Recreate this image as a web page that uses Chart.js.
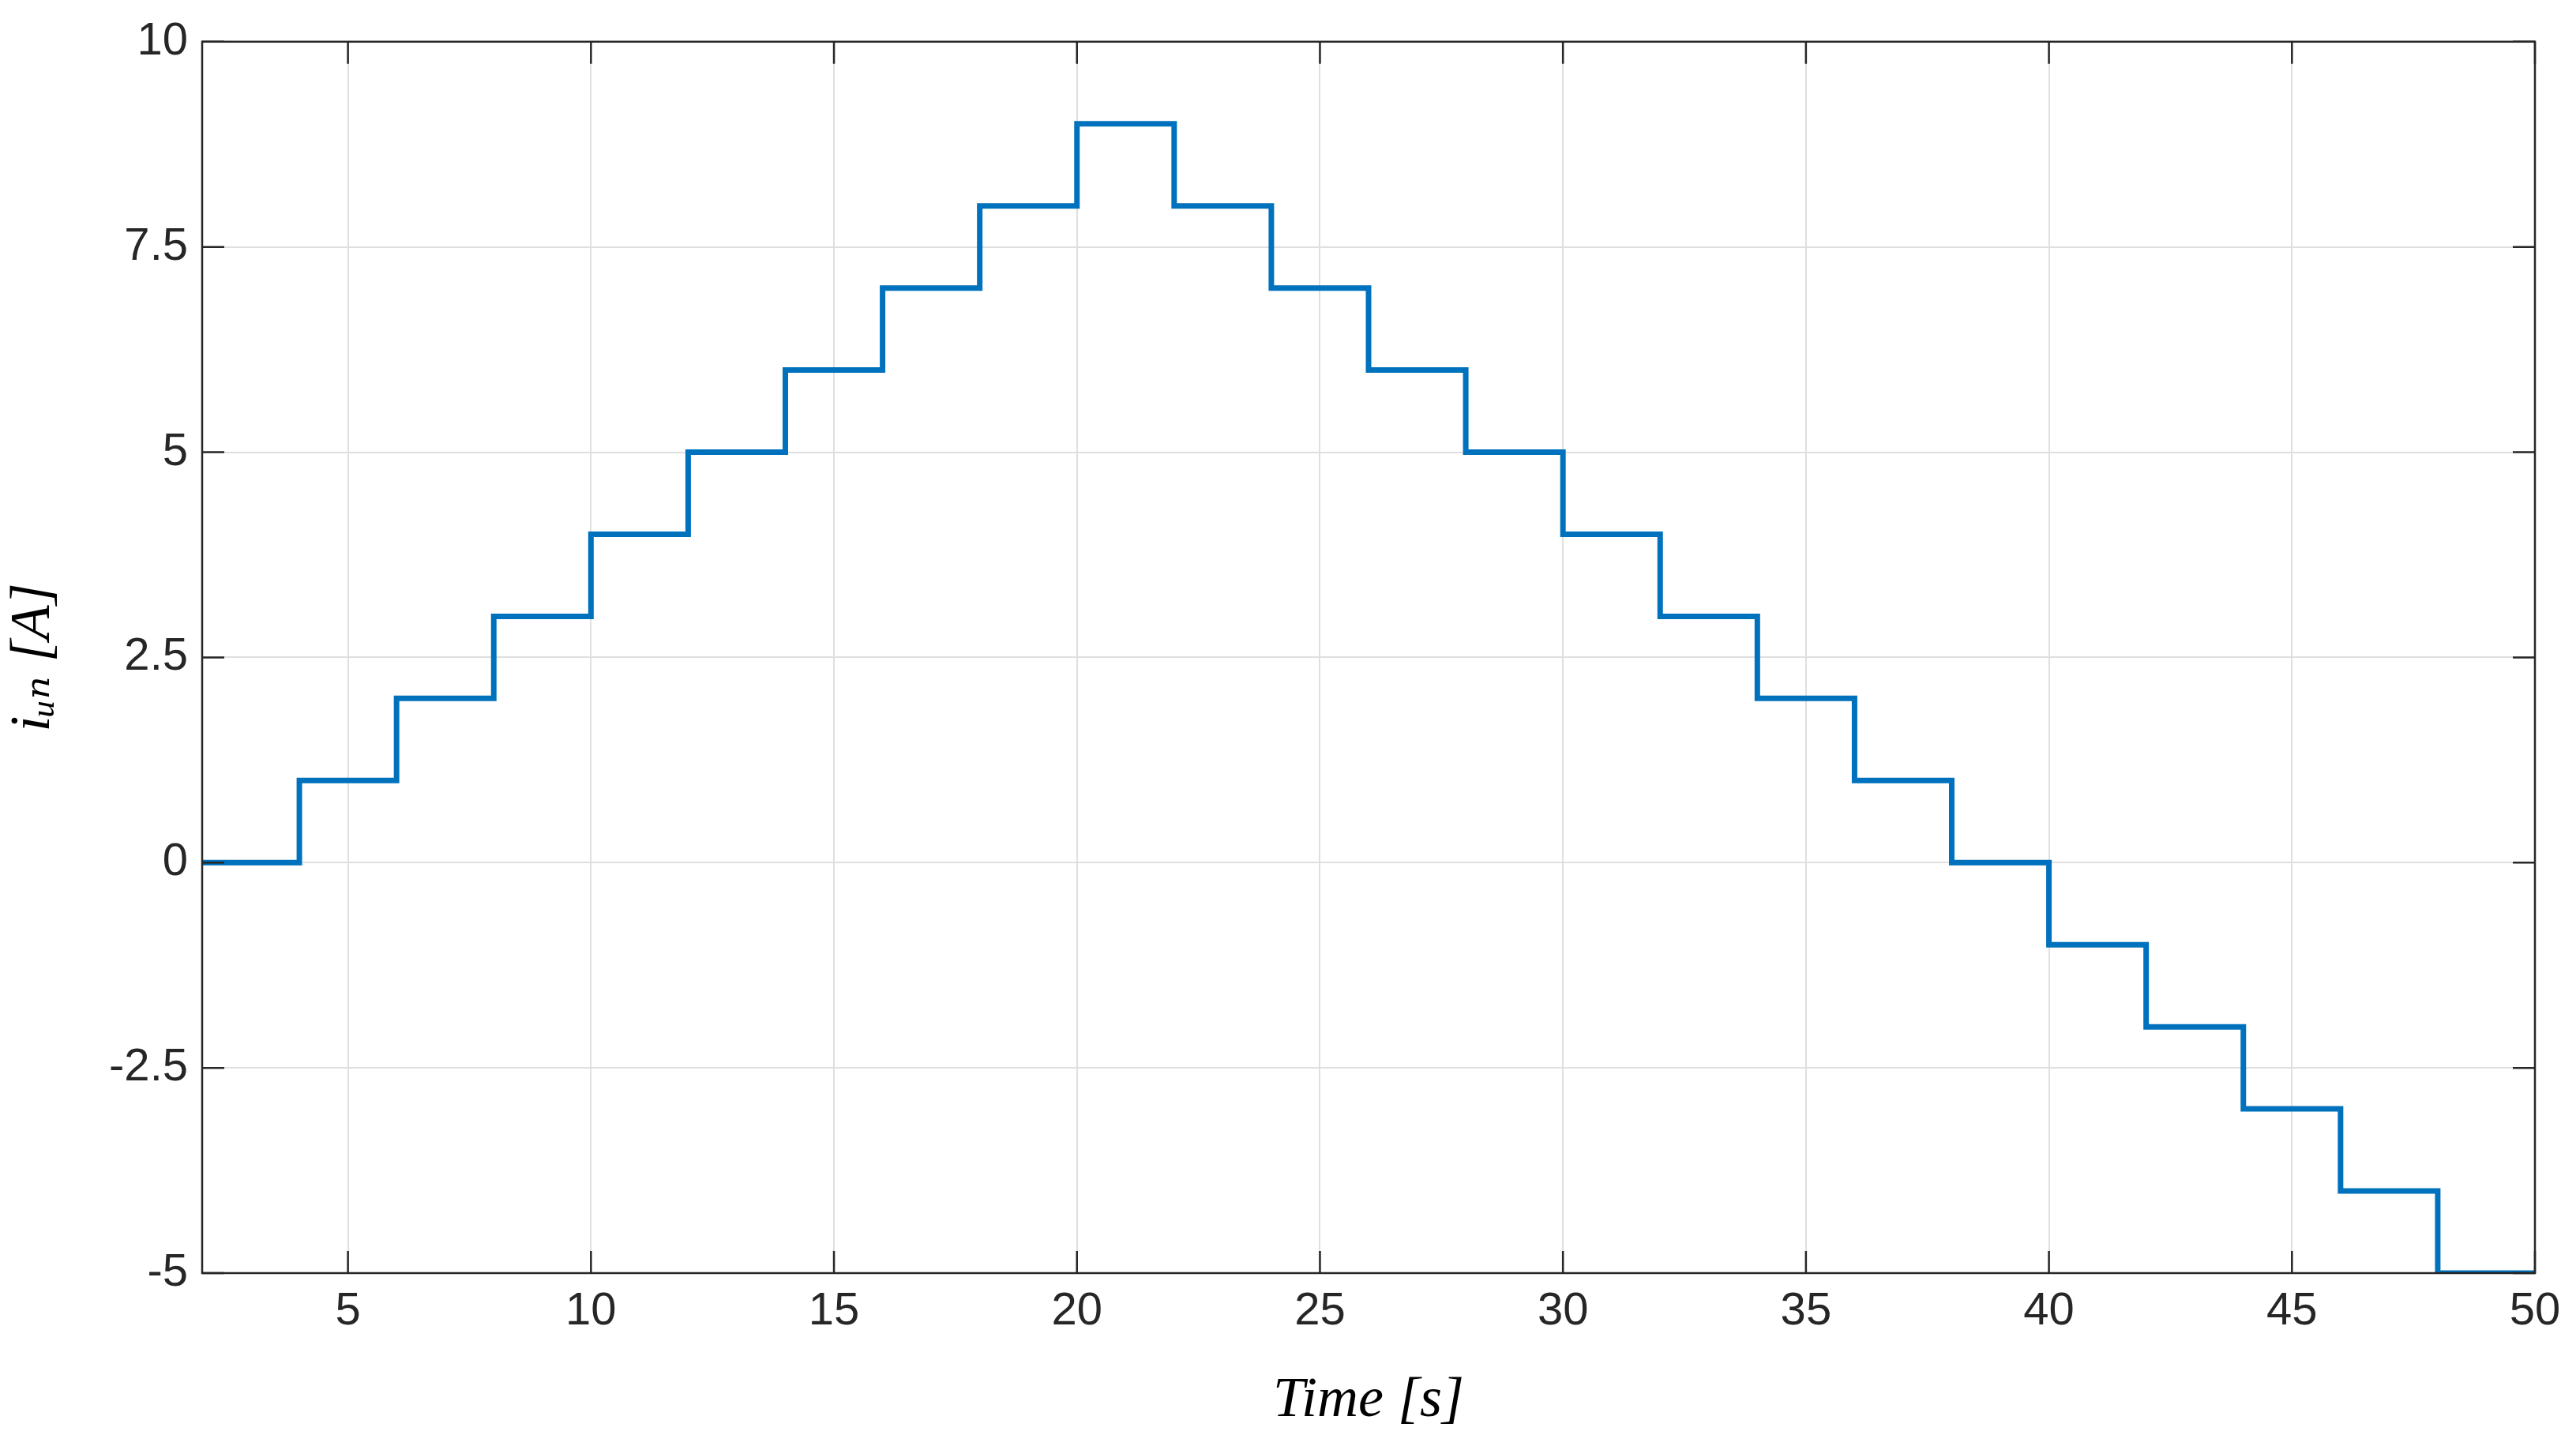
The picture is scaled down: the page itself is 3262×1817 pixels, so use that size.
<!DOCTYPE html>
<html>
<head>
<meta charset="utf-8">
<script src="https://cdn.jsdelivr.net/npm/chart.js@4"></script>
<style>
  html, body { margin: 0; padding: 0; background: #fff; }
  canvas { display: block; }
</style>
</head>
<body>
<canvas id="c" width="3262" height="1817" style="width:3262px;height:1817px;"></canvas>
<script>
// Step current over time (value holds from each time until the next)
var timeS = [2, 4, 6, 8, 10, 12, 14, 16, 18, 20, 22, 24, 26, 28, 30, 32, 34, 36, 38, 40, 42, 44, 46, 48, 50];
var currentA = [0, 1, 2, 3, 4, 5, 6, 7, 8, 9, 8, 7, 6, 5, 4, 3, 2, 1, 0, -1, -2, -3, -4, -5, -5];
var xTicks = [5, 10, 15, 20, 25, 30, 35, 40, 45, 50];
var yTicks = [-5, -2.5, 0, 2.5, 5, 7.5, 10];

var TICK_FONT = { family: "'Liberation Sans', Arial, sans-serif", size: 58 };
var TITLE_FONT = { family: "'Liberation Serif', 'DejaVu Serif', serif", size: 72, style: "italic" };

var boxPlugin = {
  id: "box",
  afterDraw: function(chart) {
    var a = chart.chartArea, ctx = chart.ctx;
    var xs = chart.scales.x, ys = chart.scales.y;
    ctx.save();
    ctx.strokeStyle = "#262626";
    ctx.lineWidth = 2.5;
    ctx.strokeRect(a.left, a.top, a.right - a.left, a.bottom - a.top);
    var L = 28;
    ctx.beginPath();
    xTicks.forEach(function(v) {
      var p = xs.getPixelForValue(v);
      ctx.moveTo(p, a.bottom); ctx.lineTo(p, a.bottom - L);
      ctx.moveTo(p, a.top); ctx.lineTo(p, a.top + L);
    });
    yTicks.forEach(function(v) {
      var p = ys.getPixelForValue(v);
      ctx.moveTo(a.left, p); ctx.lineTo(a.left + L, p);
      ctx.moveTo(a.right, p); ctx.lineTo(a.right - L, p);
    });
    ctx.stroke();
    ctx.restore();
  }
};

new Chart(document.getElementById("c").getContext("2d"), {
  type: "line",
  data: {
    datasets: [{
      data: timeS.map(function(t, i) { return { x: t, y: currentA[i] }; }),
      stepped: "before",
      borderColor: "#0072BD",
      borderWidth: 7,
      pointRadius: 0,
      fill: false
    }]
  },
  options: {
    responsive: false,
    animation: false,
    layout: { padding: { top: 44, right: 52, left: 0, bottom: 0 } },
    plugins: { legend: { display: false }, tooltip: { enabled: false } },
    scales: {
      x: {
        type: "linear", min: 2, max: 50,
        afterBuildTicks: function(s) { s.ticks = xTicks.map(function(v) { return { value: v }; }); },
        afterFit: function(s) { s.height = 205; },
        grid: { color: "#dfdfdf", lineWidth: 2, drawTicks: false },
        border: { display: false },
        ticks: { font: TICK_FONT, color: "#262626", padding: 14, maxRotation: 0,
                 callback: function(v) { return String(v); } },
        title: { display: true, text: "Time [s]", font: TITLE_FONT, color: "#000", padding: { top: 0, bottom: 0 } }
      },
      y: {
        type: "linear", min: -5, max: 10,
        afterBuildTicks: function(s) { s.ticks = yTicks.map(function(v) { return { value: v }; }); },
        afterFit: function(s) { s.width = 256; },
        grid: { color: "#dfdfdf", lineWidth: 2, drawTicks: false },
        border: { display: false },
        ticks: { font: TICK_FONT, color: "#262626", padding: 18,
                 callback: function(v) { return String(v); } },
        title: { display: true, text: "iᵤₙ [A]", font: TITLE_FONT, color: "#000", padding: { top: 0, bottom: 10 } }
      }
    }
  },
  plugins: [boxPlugin]
});
</script>
</body>
</html>
